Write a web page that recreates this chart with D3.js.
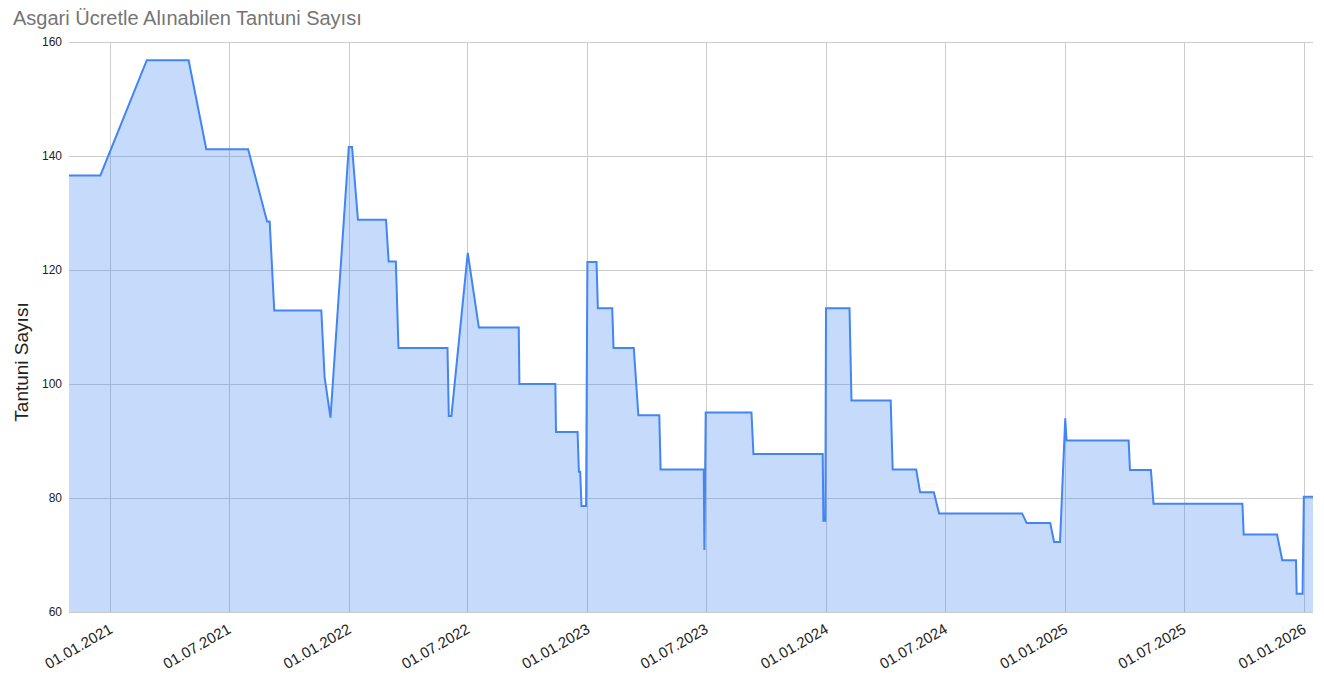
<!DOCTYPE html>
<html><head><meta charset="utf-8">
<script src="https://cdn.jsdelivr.net/npm/d3@7"></script>
<style>
html,body{margin:0;padding:0;background:#fff;}
svg{display:block;font-family:Arial,"Liberation Sans",sans-serif;}
</style></head>
<body>
<svg id="chart" width="1324" height="688"></svg>
<script>
const title = "Asgari Ücretle Alınabilen Tantuni Sayısı";
const yTitle = "Tantuni Sayısı";
const dates = ["2020-10-30","2020-12-17","2021-02-26","2021-05-01","2021-05-28","2021-07-31","2021-08-29","2021-09-02","2021-09-09","2021-11-20","2021-11-25","2021-12-04","2022-01-01","2022-01-06","2022-01-15","2022-02-27","2022-03-03","2022-03-14","2022-03-18","2022-06-01","2022-06-03","2022-06-07","2022-07-02","2022-07-19","2022-09-18","2022-09-19","2022-11-13","2022-11-14","2022-12-17","2022-12-19","2022-12-21","2022-12-23","2022-12-30","2023-01-01","2023-01-15","2023-01-17","2023-02-08","2023-02-10","2023-03-13","2023-03-20","2023-04-21","2023-04-23","2023-06-28","2023-06-29","2023-07-01","2023-09-09","2023-09-12","2023-12-27","2023-12-28","2023-12-31","2024-01-01","2024-02-06","2024-02-09","2024-04-09","2024-04-12","2024-05-18","2024-05-24","2024-06-14","2024-06-22","2024-10-27","2024-11-03","2024-12-09","2024-12-15","2024-12-24","2025-01-01","2025-01-03","2025-04-08","2025-04-10","2025-05-12","2025-05-16","2025-09-29","2025-10-01","2025-11-21","2025-11-29","2025-12-20","2025-12-21","2025-12-30","2026-01-01","2026-01-15"];
const values = [136.6,136.6,156.8,156.8,141.2,141.2,128.5,128.5,112.9,112.9,101.2,94.1,141.6,141.6,128.8,128.8,121.5,121.5,106.3,106.3,94.4,94.4,123.0,109.9,109.9,100.0,100.0,91.6,91.6,84.6,84.6,78.6,78.6,121.4,121.4,113.3,113.3,106.3,106.3,94.5,94.5,85.0,85.0,70.9,95.0,95.0,87.7,87.7,76.0,76.0,113.3,113.3,97.1,97.1,85.0,85.0,81.0,81.0,77.3,77.3,75.6,75.6,72.3,72.3,94.0,90.1,90.1,84.9,84.9,79.0,79.0,73.6,73.6,69.1,69.1,63.2,63.2,80.2,80.2];
const yTicks = [60,80,100,120,140,160];

const parse = d3.utcParse("%Y-%m-%d");
const data = dates.map((d,i)=>({date:parse(d), value:values[i]}));

const mLeft=69, mRight=1313, mTop=42, mBottom=612;
const svg = d3.select("#chart");

const x = d3.scaleUtc().domain(d3.extent(data,d=>d.date)).range([mLeft,mRight]);
const y = d3.scaleLinear().domain([60,160]).range([mBottom,mTop]);
const xTicks = d3.utcMonth.every(6).range(parse("2021-01-01"), parse("2026-01-02"));

// title
svg.append("text").attr("x",13).attr("y",25).attr("fill","#757575")
  .attr("font-size",20).text(title);

// horizontal grid
svg.append("g").selectAll("line").data(yTicks).join("line")
  .attr("x1",mLeft).attr("x2",mRight)
  .attr("y1",d=>Math.round(y(d))+0.5).attr("y2",d=>Math.round(y(d))+0.5)
  .attr("stroke","#cccccc").attr("stroke-width",1);
// vertical grid
svg.append("g").selectAll("line").data(xTicks).join("line")
  .attr("x1",d=>Math.round(x(d))+0.5).attr("x2",d=>Math.round(x(d))+0.5)
  .attr("y1",mTop).attr("y2",mBottom)
  .attr("stroke","#cccccc").attr("stroke-width",1);

// area
const area = d3.area().x(d=>x(d.date)).y0(y(60)).y1(d=>y(d.value));
svg.append("path").datum(data).attr("d",area)
  .attr("fill","#4285f4").attr("fill-opacity",0.3);
const line = d3.line().x(d=>x(d.date)).y(d=>y(d.value));
svg.append("path").datum(data).attr("d",line)
  .attr("fill","none").attr("stroke","#4285f4").attr("stroke-width",2)
  .attr("stroke-linejoin","miter").attr("stroke-miterlimit",2);

// baseline
svg.append("line").attr("x1",mLeft).attr("x2",mRight)
  .attr("y1",mBottom+0.5).attr("y2",mBottom+0.5).attr("stroke","#cccccc");

// y axis labels
const yAxis = d3.axisLeft(y).tickValues(yTicks).tickSize(0).tickPadding(7);
const gy = svg.append("g").attr("transform",`translate(${mLeft},0)`).call(yAxis);
gy.select(".domain").remove();
gy.selectAll("text").attr("font-size",12).attr("fill","#222").attr("font-family","Arial,'Liberation Sans',sans-serif");

// x axis labels
const fmt = d3.utcFormat("%d.%m.%Y");
const xAxis = d3.axisBottom(x).tickValues(xTicks).tickFormat(fmt).tickSize(0);
const gx = svg.append("g").attr("transform",`translate(0,${mBottom})`).call(xAxis);
gx.select(".domain").remove();
gx.selectAll("text").attr("font-size",15).attr("fill","#222")
  .attr("font-family","Arial,'Liberation Sans',sans-serif")
  .attr("text-anchor","end")
  .attr("dy",null).attr("y",null)
  .attr("transform","translate(3,20) rotate(-30)");

// y axis title
svg.append("text").attr("transform","translate(28,362) rotate(-90)")
  .attr("text-anchor","middle").attr("font-size",19).attr("fill","#222")
  .text(yTitle);
</script>
</body></html>
